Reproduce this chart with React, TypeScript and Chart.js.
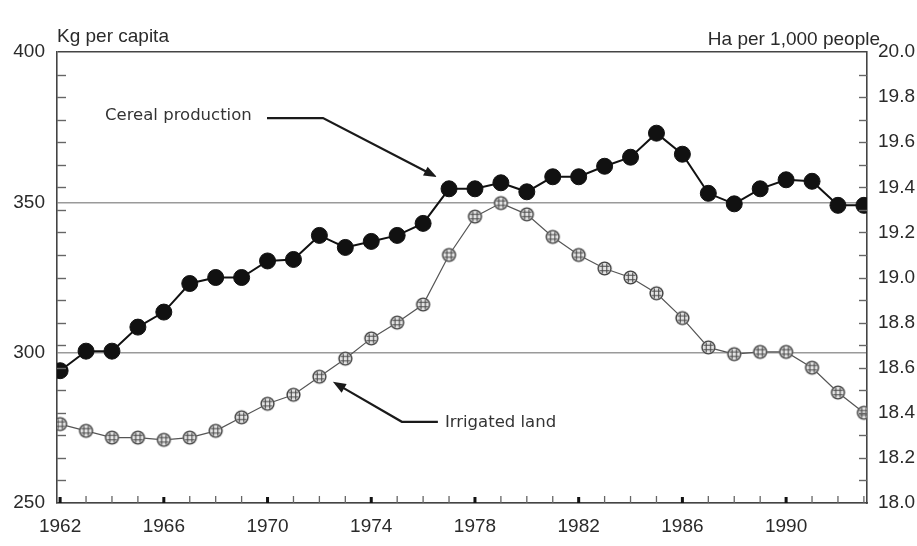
import React, { useEffect, useRef } from "react";
import { Chart, registerables } from "chart.js";

Chart.register(...registerables);

// ---------------- data ----------------
const years = [
  1962, 1963, 1964, 1965, 1966, 1967, 1968, 1969, 1970, 1971, 1972, 1973, 1974, 1975, 1976, 1977,
  1978, 1979, 1980, 1981, 1982, 1983, 1984, 1985, 1986, 1987, 1988, 1989, 1990, 1991, 1992, 1993,
];
// Kg per capita (left axis)
const cerealProduction = [
  294, 300.5, 300.5, 308.5, 313.5, 323, 325, 325, 330.5, 331, 339, 335, 337, 339, 343, 354.5,
  354.5, 356.5, 353.5, 358.5, 358.5, 362, 365, 373, 366, 353, 349.5, 354.5, 357.5, 357, 349, 349,
];
// Ha per 1,000 people (right axis)
const irrigatedLand = [
  18.35, 18.32, 18.29, 18.29, 18.28, 18.29, 18.32, 18.38, 18.44, 18.48, 18.56, 18.64, 18.73, 18.8,
  18.88, 19.1, 19.27, 19.33, 19.28, 19.18, 19.1, 19.04, 19.0, 18.93, 18.82, 18.69, 18.66, 18.67,
  18.67, 18.6, 18.49, 18.4,
];
const xTickYears = [1962, 1966, 1970, 1974, 1978, 1982, 1986, 1990];
const leftTicks = [250, 300, 350, 400];
const rightTicks = [18.0, 18.2, 18.4, 18.6, 18.8, 19.0, 19.2, 19.4, 19.6, 19.8, 20.0];
const rightMinorTicks = [
  18.1, 18.2, 18.3, 18.4, 18.5, 18.6, 18.7, 18.8, 18.9, 19.0, 19.1, 19.2, 19.3, 19.4, 19.5, 19.6,
  19.7, 19.8, 19.9,
];
const leftTitle = "Kg per capita";
const rightTitle = "Ha per 1,000 people";
const cerealLabel = "Cereal production";
const irrigatedLabel = "Irrigated land";

const AXIS_FONT = "19px 'Liberation Sans', Arial, sans-serif";
const NOTE_FONT = "16.5px 'DejaVu Sans', Verdana, sans-serif";

function makeHatchedPoint(): HTMLCanvasElement {
  const c = document.createElement("canvas");
  const s = 17;
  c.width = s;
  c.height = s;
  const g = c.getContext("2d")!;
  const cx = s / 2;
  const cy = s / 2;
  const r = 7;
  g.beginPath();
  g.arc(cx, cy, r, 0, Math.PI * 2);
  g.fillStyle = "#e4e4e4";
  g.fill();
  g.save();
  g.beginPath();
  g.arc(cx, cy, r - 1.6, 0, Math.PI * 2);
  g.clip();
  g.strokeStyle = "#4a4a4a";
  g.lineWidth = 1.1;
  for (const d of [-2.2, 2.2]) {
    g.beginPath();
    g.moveTo(cx + d, cy - r);
    g.lineTo(cx + d, cy + r);
    g.stroke();
    g.beginPath();
    g.moveTo(cx - r, cy + d);
    g.lineTo(cx + r, cy + d);
    g.stroke();
  }
  g.restore();
  g.beginPath();
  g.arc(cx, cy, r - 0.6, 0, Math.PI * 2);
  g.strokeStyle = "#404040";
  g.lineWidth = 1.4;
  g.stroke();
  return c;
}

function drawArrow(ctx: CanvasRenderingContext2D, pts: { x: number; y: number }[]) {
  ctx.save();
  ctx.strokeStyle = "#1a1a1a";
  ctx.fillStyle = "#1a1a1a";
  ctx.lineWidth = 2.2;
  ctx.beginPath();
  ctx.moveTo(pts[0].x, pts[0].y);
  const tip = pts[pts.length - 1];
  const prev = pts[pts.length - 2];
  const ang = Math.atan2(tip.y - prev.y, tip.x - prev.x);
  const len = 13;
  const hw = 5;
  for (let i = 1; i < pts.length - 1; i++) ctx.lineTo(pts[i].x, pts[i].y);
  ctx.lineTo(tip.x - Math.cos(ang) * (len - 2), tip.y - Math.sin(ang) * (len - 2));
  ctx.stroke();
  ctx.beginPath();
  ctx.moveTo(tip.x, tip.y);
  const bx = tip.x - Math.cos(ang) * len;
  const by = tip.y - Math.sin(ang) * len;
  ctx.lineTo(bx + Math.sin(ang) * hw, by - Math.cos(ang) * hw);
  ctx.lineTo(bx - Math.sin(ang) * hw, by + Math.cos(ang) * hw);
  ctx.closePath();
  ctx.fill();
  ctx.restore();
}

const decorPlugin = {
  id: "decor",
  afterDraw(chart: any) {
    const { ctx, chartArea, scales } = chart;
    const x = scales.x;
    const yL = scales.y;
    const yR = scales.y1;
    ctx.save();
    // minor ticks on left and right axes (inward)
    ctx.strokeStyle = "#666";
    ctx.lineWidth = 1.4;
    for (const v of rightMinorTicks) {
      const py = Math.round(yR.getPixelForValue(v)) + 0.5;
      ctx.beginPath();
      ctx.moveTo(chartArea.left, py);
      ctx.lineTo(chartArea.left + 9, py);
      ctx.stroke();
      ctx.beginPath();
      ctx.moveTo(chartArea.right - 8, py);
      ctx.lineTo(chartArea.right, py);
      ctx.stroke();
    }
    // year ticks (inward on bottom axis)
    for (const yr of years) {
      const px = x.getPixelForValue(yr);
      const major = xTickYears.includes(yr);
      if (major) {
        ctx.fillStyle = "#111";
        ctx.fillRect(px - 1.5, chartArea.bottom - 6, 3, 6);
      } else {
        ctx.strokeStyle = "#666";
        ctx.lineWidth = 1.3;
        ctx.beginPath();
        ctx.moveTo(px, chartArea.bottom - 7);
        ctx.lineTo(px, chartArea.bottom);
        ctx.stroke();
      }
    }
    // axis titles
    ctx.fillStyle = "#2a2a2a";
    ctx.font = AXIS_FONT;
    ctx.textBaseline = "alphabetic";
    ctx.textAlign = "left";
    ctx.fillText(leftTitle, chartArea.left, 42);
    ctx.textAlign = "right";
    ctx.fillText(rightTitle, chartArea.right + 13, 45);

    // annotations
    ctx.font = NOTE_FONT;
    ctx.fillStyle = "#333";
    ctx.textAlign = "left";
    ctx.fillText(cerealLabel, x.getPixelForValue(1963.73), yL.getPixelForValue(377.4));
    drawArrow(ctx, [
      { x: x.getPixelForValue(1969.98), y: yL.getPixelForValue(378.0) },
      { x: x.getPixelForValue(1972.14), y: yL.getPixelForValue(378.0) },
      { x: x.getPixelForValue(1976.53), y: yL.getPixelForValue(358.4) },
    ]);
    ctx.font = NOTE_FONT;
    ctx.fillStyle = "#333";
    ctx.textAlign = "left";
    ctx.fillText(irrigatedLabel, x.getPixelForValue(1976.84), yL.getPixelForValue(275.3));
    drawArrow(ctx, [
      { x: x.getPixelForValue(1976.57), y: yL.getPixelForValue(277.0) },
      { x: x.getPixelForValue(1975.18), y: yL.getPixelForValue(277.0) },
      { x: x.getPixelForValue(1972.52), y: yL.getPixelForValue(290.3) },
    ]);
    ctx.restore();
  },
};

export default function App() {
  const canvasRef = useRef<HTMLCanvasElement | null>(null);

  useEffect(() => {
    document.body.style.margin = "0";
    const canvas = canvasRef.current;
    if (!canvas) return;
    const hatched = makeHatchedPoint();

    const chart = new Chart(canvas, {
      type: "line",
      data: {
        datasets: [
          {
            label: irrigatedLabel,
            data: years.map((yr, i) => ({ x: yr, y: irrigatedLand[i] })),
            yAxisID: "y1",
            borderColor: "#555",
            borderWidth: 1.2,
            pointStyle: hatched as any,
            pointRadius: 7,
            tension: 0,
          },
          {
            label: cerealLabel,
            data: years.map((yr, i) => ({ x: yr, y: cerealProduction[i] })),
            yAxisID: "y",
            borderColor: "#111",
            borderWidth: 2,
            pointRadius: 8,
            pointBackgroundColor: "#111",
            pointBorderColor: "#111",
            pointBorderWidth: 1,
            tension: 0,
          },
        ],
      },
      options: {
        responsive: false,
        animation: false,
        devicePixelRatio: 1,
        layout: { padding: { top: 52, left: 0, right: 0, bottom: 0 } },
        plugins: {
          legend: { display: false },
          tooltip: { enabled: false },
        },
        scales: {
          x: {
            type: "linear",
            min: 1961.88,
            max: 1993.12,
            afterBuildTicks: (s: any) => {
              s.ticks = xTickYears.map((v) => ({ value: v }));
            },
            afterFit: (s: any) => {
              s.height = 43;
            },
            grid: { display: false, drawTicks: false },
            border: { display: true, color: "#444", width: 1.6 },
            ticks: {
              padding: 12,
              color: "#2a2a2a",
              font: { family: "'Liberation Sans', Arial, sans-serif", size: 19 },
              callback: (v: any) => String(v),
              maxRotation: 0,
              autoSkip: false,
            },
          },
          y: {
            type: "linear",
            position: "left",
            min: 250,
            max: 400,
            afterBuildTicks: (s: any) => {
              s.ticks = leftTicks.map((v) => ({ value: v }));
            },
            afterFit: (s: any) => {
              s.width = 57;
            },
            grid: {
              drawOnChartArea: true,
              drawTicks: false,
              color: (c: any) => (c.tick && c.tick.value === 400 ? "#444" : "#9a9a9a"),
              lineWidth: 1.6,
            },
            border: { display: true, color: "#444", width: 1.6 },
            ticks: {
              padding: 12,
              color: "#2a2a2a",
              font: { family: "'Liberation Sans', Arial, sans-serif", size: 19 },
              callback: (v: any) => String(v),
            },
          },
          y1: {
            type: "linear",
            position: "right",
            min: 18,
            max: 20,
            afterBuildTicks: (s: any) => {
              s.ticks = rightTicks.map((v) => ({ value: v }));
            },
            afterFit: (s: any) => {
              s.width = 50;
            },
            grid: { drawOnChartArea: false, drawTicks: false },
            border: { display: true, color: "#444", width: 1.6 },
            ticks: {
              padding: 11,
              color: "#2a2a2a",
              font: { family: "'Liberation Sans', Arial, sans-serif", size: 19 },
              callback: (v: any) => Number(v).toFixed(1),
            },
          },
        },
      },
      plugins: [decorPlugin],
    });
    return () => chart.destroy();
  }, []);

  return (
    <div style={{ width: 917, height: 546, background: "#fff" }}>
      <canvas ref={canvasRef} width={917} height={546} style={{ display: "block" }} />
    </div>
  );
}
